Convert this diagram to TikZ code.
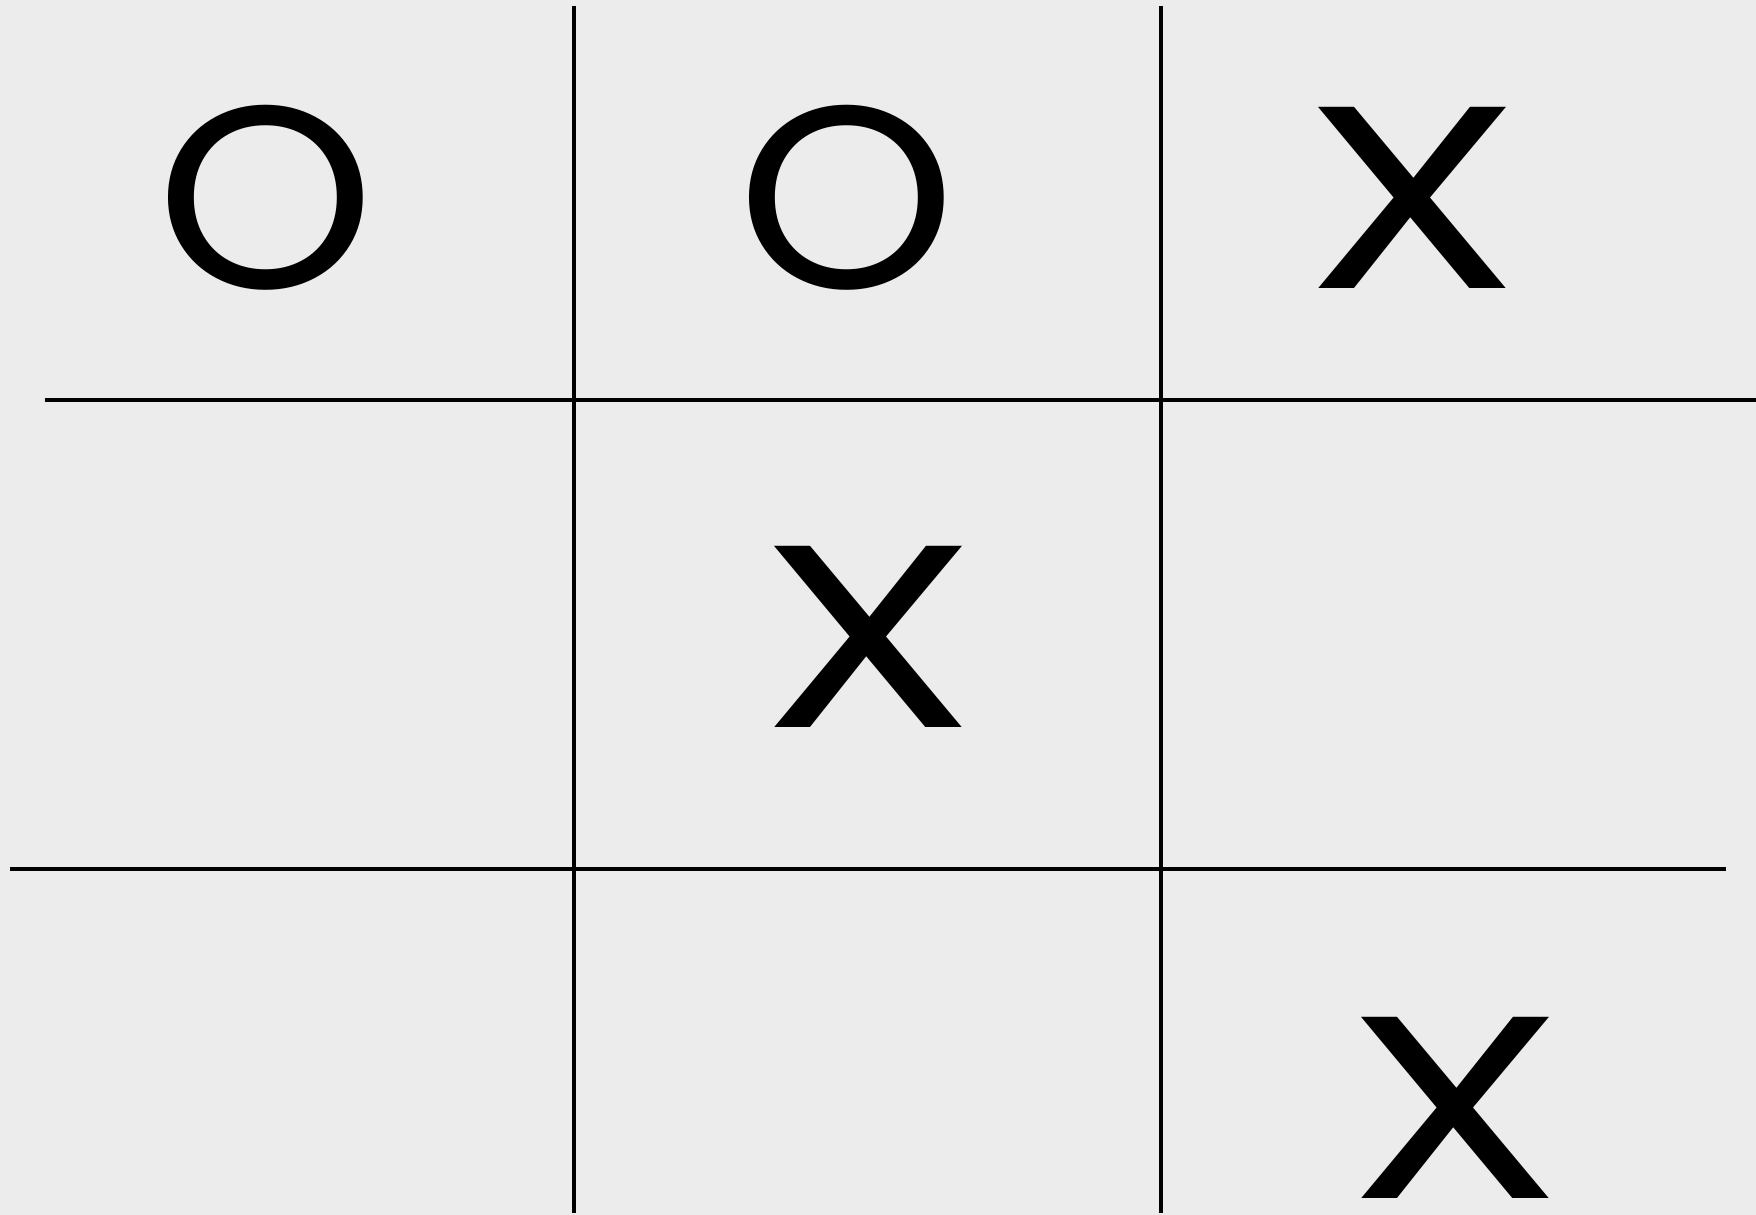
\documentclass[tikz,border=0pt]{standalone}
\usepackage{fontspec}
\setmainfont{Poppins}
\definecolor{bg}{RGB}{236,236,236}
\tikzset{gridline/.style={line width=2pt, black},
  glyph/.style={inner sep=0pt, font=\fontsize{130}{130}\selectfont},
  oglyph/.style={glyph, xscale=1.07},
  xglyph/.style={glyph, xscale=1.36}}
\begin{document}
\begin{tikzpicture}[x=0.5pt,y=-0.5pt]
\fill[bg] (0,0) rectangle (1756,1215);
\useasboundingbox (0,0) rectangle (1756,1215);
\coordinate (v1t) at (573.5,5.6);
\coordinate (v1b) at (573.5,1213);
\coordinate (v2t) at (1160.5,5.6);
\coordinate (v2b) at (1160.5,1213);
\coordinate (h1l) at (45,400);
\coordinate (h1r) at (1756,400);
\coordinate (h2l) at (10,869);
\coordinate (h2r) at (1726,869);
\draw[gridline] (v1t) -- (v1b);
\draw[gridline] (v2t) -- (v2b);
\draw[gridline] (h1l) -- (h1r);
\draw[gridline] (h2l) -- (h2r);
\node[oglyph] (o1) at (265.5,198) {O};
\node[oglyph] (o2) at (846.5,198) {O};
\node[xglyph] (x1) at (1412.5,198) {X};
\node[xglyph] (x2) at (868.5,636.5) {X};
\node[xglyph] (x3) at (1455.5,1108) {X};
\end{tikzpicture}
\end{document}
